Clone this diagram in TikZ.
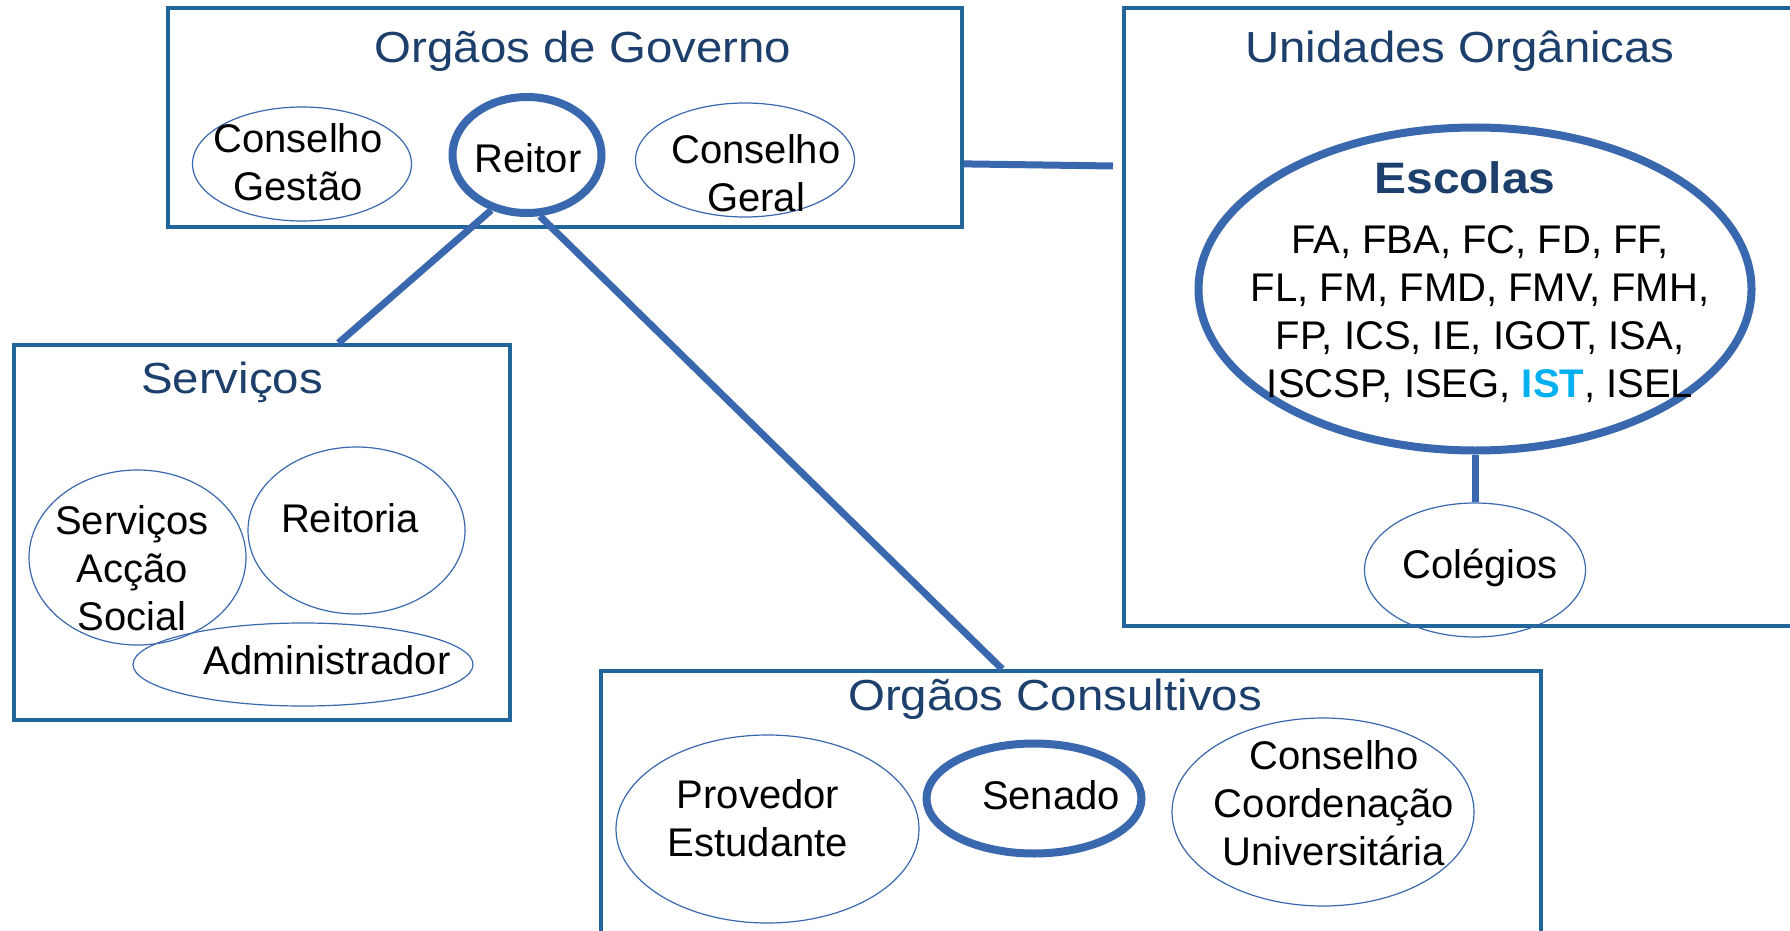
\documentclass[tikz,border=0pt]{standalone}
\usepackage{fontspec}
\setmainfont{Liberation Sans}
\newfontfamily\titlefont[FakeStretch=1.09]{Liberation Sans}
\usetikzlibrary{shapes.geometric, calc}
\definecolor{panelblue}{HTML}{22659A}
\definecolor{titleblue}{HTML}{1C3F6B}
\definecolor{ringblue}{HTML}{3A68AE}
\definecolor{istblue}{HTML}{00B0F0}
\tikzset{
    panel/.style={draw=panelblue, line width=4pt, rectangle, inner sep=0pt},
    paneltitle/.style={text=titleblue, inner sep=0pt,
        font=\titlefont\fontsize{43.5}{52}\selectfont},
    oval/.style={ellipse, draw=ringblue, line width=1.2pt, inner sep=0pt},
    boldoval/.style={ellipse, draw=ringblue, line width=8pt, inner sep=0pt},
    txt/.style={align=center, inner sep=0pt, font=\fontsize{40}{48}\selectfont},
    link/.style={draw=ringblue, line width=7pt},
}

\begin{document}
\begin{tikzpicture}[x=1pt, y=-1pt]
    \fill[white] (0,0) rectangle (1790,931);
    \clip (0,0) rectangle (1790,931);
    % Panels
    \node[panel, minimum width=794pt, minimum height=219pt] (governo) at (565,117.5) {};
    \node[panel, minimum width=676pt, minimum height=618pt] (unidades) at (1462,317) {};
    \node[panel, minimum width=496pt, minimum height=375pt] (servicos) at (262,532.5) {};
    \node[panel, minimum width=940pt, minimum height=274pt] (consultivos) at (1071,808) {};
    \node[paneltitle] at (583,51) {Orgãos de Governo};
    \node[paneltitle] at (1460,51) {Unidades Orgânicas};
    \node[paneltitle] at (232,382) {Serviços};
    \node[paneltitle] at (1055,699) {Orgãos Consultivos};
    % Orgaos de Governo
    \node[oval, minimum width=219pt, minimum height=114pt] (gestao) at (302,164) {};
    \node[boldoval, minimum width=149pt, minimum height=116pt] (reitor) at (527,155) {};
    \node[oval, minimum width=219pt, minimum height=114pt] (geral) at (745,160) {};
    \node[txt] at (298,162) {Conselho\\Gestão};
    \node[txt] at (528,158) {Reitor};
    \node[txt] at (756,173) {Conselho\\Geral};
    % Unidades Organicas
    \node[boldoval, minimum width=553pt, minimum height=323pt] (escolas) at (1475,289) {};
    \node[oval, minimum width=221pt, minimum height=134pt] (colegios) at (1475,570) {};
    \node[paneltitle, font=\titlefont\bfseries\fontsize{44}{52}\selectfont] at (1465,178) {Escolas};
    \node[txt] at (1480,314) {FA, FBA, FC, FD, FF,\\FL, FM, FMD, FMV, FMH,\\FP, ICS, IE, IGOT, ISA,\\
        ISCSP, ISEG, \textcolor{istblue}{\bfseries IST}, ISEL};
    \node[txt] at (1480,568) {Colégios};
    % Servicos
    \node[oval, minimum width=217pt, minimum height=175pt] (accao) at (137.5,557.5) {};
    \node[oval, minimum width=217pt, minimum height=167pt] (reitoria) at (356.5,530.5) {};
    \node[oval, minimum width=340pt, minimum height=83pt] (admin) at (303,664.5) {};
    \node[txt] at (132,568) {Serviços\\Acção\\Social};
    \node[txt] at (350,518) {Reitoria};
    \node[txt] at (327,660) {Administrador};
    % Orgaos Consultivos
    \node[oval, minimum width=303pt, minimum height=188pt] (provedor) at (767.5,829) {};
    \node[boldoval, minimum width=215pt, minimum height=110pt] (senado) at (1034,798.5) {};
    \node[oval, minimum width=302pt, minimum height=188pt] (coordenacao) at (1323,812) {};
    \node[txt] at (758,818) {Provedor\\Estudante};
    \node[txt] at (1051,795) {Senado};
    \node[txt] at (1334,803) {Conselho\\Coordenação\\Universitária};
    % Links
    \coordinate (ugap) at (1113,166);
    \draw[link] ($(governo.north east)!0.708!(governo.south east)$) -- (ugap);
    \draw[link] (reitor.237) -- ($(servicos.north west)!0.653!(servicos.north east)$);
    \draw[link] (reitor.282) -- ($(consultivos.north west)!0.427!(consultivos.north east)$);
    \draw[link] (escolas.south) -- (colegios.north);
\end{tikzpicture}
\end{document}
